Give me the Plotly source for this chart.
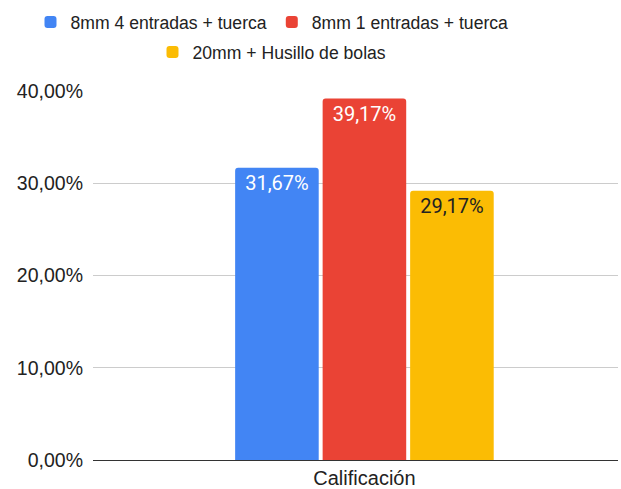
import plotly.graph_objects as go

categories = ["Calificación"]
series_names = ["8mm 4 entradas + tuerca", "8mm 1 entradas + tuerca", "20mm + Husillo de bolas"]
series_values = [[0.3167], [0.3917], [0.2917]]
series_colors = ["#4285F4", "#EA4335", "#FBBC04"]
label_colors = ["#ffffff", "#ffffff", "#222222"]
legend_ids = ["legend", "legend", "legend2"]

fig = go.Figure()
for name, vals, col, lc, lg in zip(series_names, series_values, series_colors, label_colors, legend_ids):
    fig.add_trace(go.Bar(
        x=categories, y=vals, name=name, legend=lg,
        marker=dict(color=col, line=dict(width=0)),
        texttemplate="%{y:.2%}", textposition="inside", insidetextanchor="end",
        textangle=0,
        textfont=dict(family="Roboto", size=20, color=lc),
        hoverinfo="skip",
    ))

leg_common = dict(orientation="h", xref="container", yref="container",
                  xanchor="center", yanchor="middle",
                  font=dict(size=17.6, color="#222222"), itemwidth=30,
                  bgcolor="rgba(0,0,0,0)")

fig.update_layout(
    width=621, height=489,
    paper_bgcolor="white", plot_bgcolor="white",
    separators=",.",
    barmode="group", bargap=0.50, bargroupgap=0.045, barcornerradius=3,
    margin=dict(l=93, r=3, t=90, b=29, autoexpand=False),
    font=dict(family="Liberation Sans, Arial", size=16, color="#222222"),
    legend=dict(x=0.438, y=1 - 22 / 489, **leg_common),
    legend2=dict(x=0.438, y=1 - 52 / 489, **leg_common),
    xaxis=dict(range=[-0.517, 0.483], showgrid=False, showline=True, linecolor="#333333",
               linewidth=1, ticks="", automargin=False,
               tickfont=dict(size=20, color="#222222")),
    yaxis=dict(range=[0, 0.401], tickvals=[0, 0.1, 0.2, 0.3, 0.4], tickformat=".2%",
               showgrid=True, gridcolor="#cccccc", gridwidth=1, zeroline=False,
               ticks="", ticklen=0, automargin=False, ticklabelstandoff=9,
               tickfont=dict(size=19.5, color="#222222")),
)
fig.write_html("out.html", config={"displayModeBar": False},
               post_script="document.body.style.margin='0';document.body.style.overflow='hidden';")
